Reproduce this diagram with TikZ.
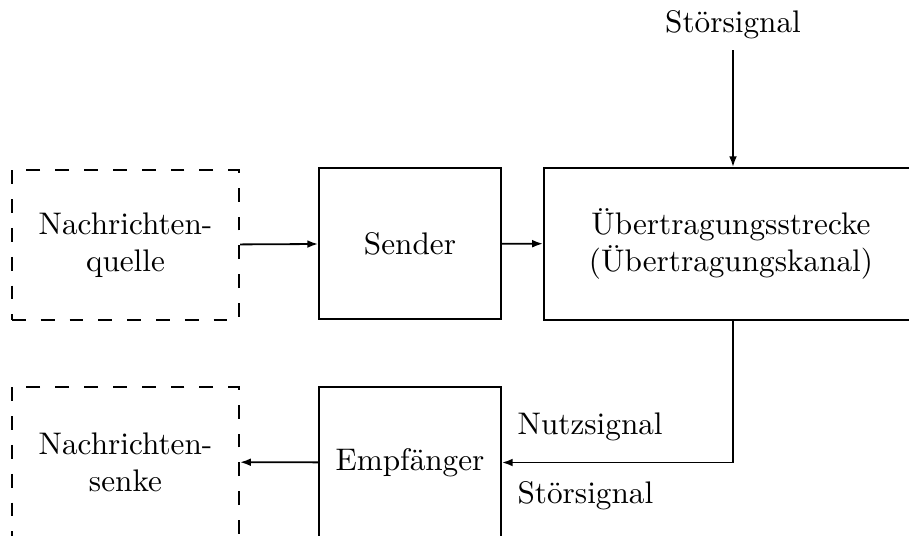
\documentclass[tikz,border=0pt]{standalone}
\usepackage{fontspec}
\usetikzlibrary{arrows.meta, positioning}
\tikzset{
  every picture/.style={line width=0.6pt},
  every node/.style={font=\fontsize{10.4pt}{12.2pt}\selectfont},
  block/.style={draw, align=center, minimum width=#1, minimum height=1.77cm},
  block/.default=2.13cm,
  srcbox/.style={draw, dash pattern=on 4.6pt off 5pt, align=center, minimum width=2.66cm, minimum height=1.76cm},
  arrow/.style={-{Latex[length=3.6pt, width=2.6pt]}, line width=0.6pt},
  lbl/.style={inner sep=3.33pt},
}

\begin{document}
\begin{tikzpicture}[x=0.01171cm, y=-0.01171cm]
  \useasboundingbox (0,0) rectangle (909,535);
  \begin{scope}
  \clip (0,0) rectangle (909,535);
  % upper row
  \node[srcbox] (quelle) at (125.5,245) {Nachrichten-\\quelle};
  \node[block] (sender) at (410,243.5) {Sender};
  \node[block=4.38cm, minimum height=1.78cm] (kanal) at (731,244) {Übertragungsstrecke\\(Übertragungskanal)};
  \node[lbl] (stoer) at (733,25) {Störsignal};
  % lower row
  \node[srcbox] (senke) at (125.5,462) {Nachrichten-\\senke};
  \node[block] (empf) at (410,462.5) {Empfänger};
  \end{scope}

  \draw[arrow] (quelle) -- (sender);
  \draw[arrow] (sender) -- (kanal);
  \draw[arrow] (stoer.south) -- (stoer.south |- kanal.north);
  \coordinate (knick) at (stoer.south |- empf.east);
  \draw[arrow] (stoer.south |- kanal.south) -- (knick) -- (empf.east);
  \draw[arrow] (empf) -- (senke);
  \node[lbl, above right=3.5pt and 1.6pt of empf.east] (nutz) {Nutzsignal};
  \node[lbl, below right=2.8pt and 1.6pt of empf.east] (stoer2) {Störsignal};
\end{tikzpicture}
\end{document}
